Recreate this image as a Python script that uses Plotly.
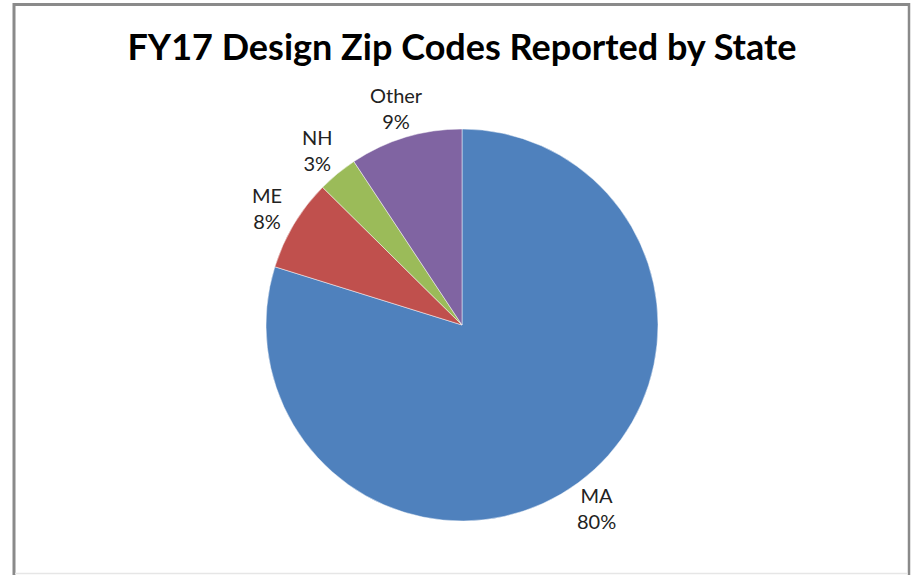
import math
import plotly.graph_objects as go

W, H = 913, 575

states = ["MA", "ME", "NH", "Other"]
shares = [79.8, 7.6, 3.3, 9.3]
colors = ["#4F81BD", "#C0504D", "#9BBB59", "#8064A2"]
title_text = "FY17 Design Zip Codes Reported by State"

cx, cy, r = 462, 325, 196
label_r = 227

fig = go.Figure(go.Pie(
    labels=states,
    values=shares,
    sort=False,
    direction="clockwise",
    rotation=0,
    marker=dict(colors=colors, line=dict(color="rgba(255,255,255,0.6)", width=0.8)),
    textinfo="none",
    showlegend=False,
    hoverinfo="label+percent",
    domain=dict(x=[(cx - r) / W, (cx + r) / W], y=[1 - (cy + r) / H, 1 - (cy - r) / H]),
))

# data labels placed at the middle angle of each slice, just outside the pie
total = sum(shares)
annotations = []
cum = 0.0
for lab, v in zip(states, shares):
    mid = (cum + v / 2) / total
    cum += v
    ang = 2 * math.pi * mid
    px = cx + label_r * math.sin(ang)
    py = cy - label_r * math.cos(ang)
    pct = round(100 * v / total)
    annotations.append(dict(
        x=px / W, y=1 - py / H, xref="paper", yref="paper",
        text=f"{lab}<br>{pct}%", showarrow=False,
        xanchor="center", yanchor="middle", align="center",
        font=dict(family="Lato, Open Sans, sans-serif", size=20, color="#222222"),
    ))

fig.update_layout(
    width=W, height=H,
    margin=dict(l=0, r=0, t=0, b=0),
    paper_bgcolor="white",
    title=dict(text="<b>" + title_text + "</b>", x=462 / W, xanchor="center",
               y=1 - 47 / H, yanchor="middle", yref="container",
               font=dict(family="Lato, Open Sans, sans-serif", size=36, color="#000000")),
    annotations=annotations,
    shapes=[
        dict(type="line", xref="paper", yref="paper", x0=13 / W, x1=910 / W, y0=1 - 4.5 / H, y1=1 - 4.5 / H,
             line=dict(color="#8a8a8a", width=3)),
        dict(type="line", xref="paper", yref="paper", x0=14 / W, x1=14 / W, y0=1 - 3 / H, y1=0,
             line=dict(color="#8a8a8a", width=3)),
        dict(type="line", xref="paper", yref="paper", x0=909 / W, x1=909 / W, y0=1 - 3 / H, y1=0,
             line=dict(color="#8a8a8a", width=2.5)),
        dict(type="line", xref="paper", yref="paper", x0=15 / W, x1=908 / W, y0=1 - 573.5 / H, y1=1 - 573.5 / H,
             line=dict(color="#e6e6e6", width=1.5)),
    ],
)

fig.write_html("out.html", config={"displayModeBar": False},
               post_script="document.body.style.margin='0px';document.body.style.overflow='hidden';")
